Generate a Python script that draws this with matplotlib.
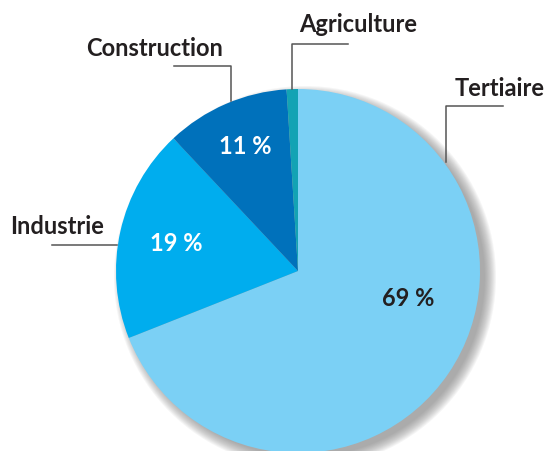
import matplotlib.pyplot as plt
from matplotlib.patches import Circle

secteurs = ['Tertiaire', 'Industrie', 'Construction', 'Agriculture']
parts = [69, 19, 11, 1]
couleurs = ['#7bd0f5', '#00adee', '#0071bb', '#13a3b4']
pct_couleurs = ['#231f20', 'white', 'white', None]

W, H = 544, 452
plt.rcParams['font.family'] = ['Lato', 'DejaVu Sans']

fig = plt.figure(figsize=(W / 100, H / 100), dpi=100)
ax = fig.add_axes([0, 0, 1, 1])

cx, cy, r = 298, H - 272, 182

# ombre floue en bas a droite
for k in range(12):
    ax.add_patch(Circle((cx + 7, cy - 6), r + 9 - k, color='#777777',
                        alpha=0.07, lw=0, zorder=1))

wedges, _ = ax.pie(parts, colors=couleurs, startangle=90, counterclock=False,
                   center=(cx, cy), radius=r, frame=True,
                   wedgeprops=dict(linewidth=0, zorder=2))

ax.set_xlim(0, W)
ax.set_ylim(0, H)
ax.set_aspect('equal')
ax.axis('off')

# pourcentages (positions en pixels, y depuis le haut)
pos_pct = [(408, 299), (176, 244), (245, 146), None]
for i in range(len(parts)):
    if pos_pct[i] is None:
        continue
    x, y = pos_pct[i]
    ax.text(x, H - y, '%d %%' % parts[i], color=pct_couleurs[i], fontsize=17,
            fontweight='bold', ha='center', va='center', zorder=5)

# etiquettes et traits de rappel
pos_lab = [(500, 89), (57, 227), (155, 48), (358, 25)]
traits = [
    [(503, 107), (446, 107), (446, 163)],
    [(52, 246), (117, 246)],
    [(174, 67), (231, 67), (231, 102)],
    [(348, 45), (292, 45), (292, 90)],
]
for i in range(len(secteurs)):
    x, y = pos_lab[i]
    ax.text(x, H - y, secteurs[i], color='#231f20', fontsize=17,
            fontweight='bold', ha='center', va='center', zorder=5)
    xs = [p[0] for p in traits[i]]
    ys = [H - p[1] for p in traits[i]]
    ax.plot(xs, ys, color='#555555', lw=1.1, zorder=4)

fig.savefig('out.png', dpi=100)
